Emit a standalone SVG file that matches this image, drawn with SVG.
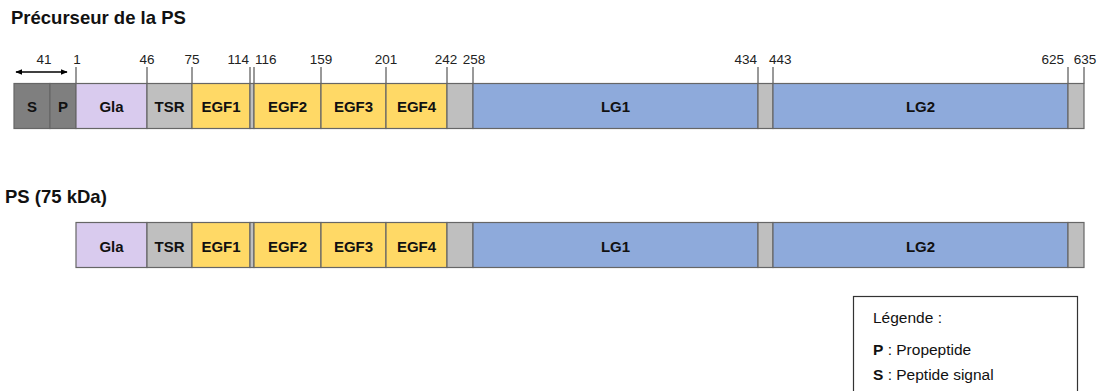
<svg xmlns="http://www.w3.org/2000/svg" width="1104" height="391" viewBox="0 0 1104 391">
<defs>
<style>
.seg{stroke:#666;stroke-width:1.2}
.dk{fill:#7f7f7f}.gla{fill:#d9cbee}.gr{fill:#bfbfbf}.egf{fill:#ffd966}.lg{fill:#8eaadb}
.lbl{font-family:"Liberation Sans",Arial,sans-serif;font-weight:bold;font-size:15px;fill:#111;text-anchor:middle}
.num{font-family:"Liberation Sans",Arial,sans-serif;font-size:13.5px;fill:#222}
.title{font-family:"Liberation Sans",Arial,sans-serif;font-weight:bold;font-size:18.5px;fill:#111}
.leg{font-family:"Liberation Sans",Arial,sans-serif;font-size:15.5px;fill:#111}
.tick{stroke:#555;stroke-width:1.2}
</style>
<marker id="ah" viewBox="0 0 10 10" refX="9" refY="5" markerWidth="7" markerHeight="7" orient="auto-start-reverse" markerUnits="userSpaceOnUse">
<path d="M0,1 L10,5 L0,9 z" fill="#000"/>
</marker>
</defs>
<rect width="1104" height="391" fill="#fff"/>

<text class="title" x="11" y="24">Précurseur de la PS</text>
<text class="title" x="5" y="203">PS (75 kDa)</text>

<g id="connectors">
<line x1="16" y1="72" x2="67" y2="72" stroke="#000" stroke-width="1.3" marker-start="url(#ah)" marker-end="url(#ah)"/>
<g class="tick">
<line x1="76" y1="67" x2="76" y2="83.5"/>
<line x1="147" y1="67" x2="147" y2="83.5"/>
<line x1="192" y1="67" x2="192" y2="83.5"/>
<line x1="250" y1="67" x2="250" y2="83.5"/>
<line x1="254" y1="67" x2="254" y2="83.5"/>
<line x1="321" y1="67" x2="321" y2="83.5"/>
<line x1="386" y1="67" x2="386" y2="83.5"/>
<line x1="447" y1="67" x2="447" y2="83.5"/>
<line x1="473" y1="67" x2="473" y2="83.5"/>
<line x1="758" y1="67" x2="758" y2="83.5"/>
<line x1="773" y1="67" x2="773" y2="83.5"/>
<line x1="1068" y1="67" x2="1068" y2="83.5"/>
<line x1="1084" y1="67" x2="1084" y2="83.5"/>
</g>
</g>

<g id="numbers" class="num">
<text x="44" y="64" text-anchor="middle">41</text>
<text x="77" y="64" text-anchor="middle">1</text>
<text x="147" y="64" text-anchor="middle">46</text>
<text x="192" y="64" text-anchor="middle">75</text>
<text x="249" y="64" text-anchor="end">114</text>
<text x="255" y="64">116</text>
<text x="321" y="64" text-anchor="middle">159</text>
<text x="386" y="64" text-anchor="middle">201</text>
<text x="446" y="64" text-anchor="middle">242</text>
<text x="474" y="64" text-anchor="middle">258</text>
<text x="757" y="64" text-anchor="end">434</text>
<text x="769" y="64">443</text>
<text x="1064" y="64" text-anchor="end">625</text>
<text x="1085" y="64" text-anchor="middle">635</text>
</g>

<g id="precursor">
<g id="p-S"><rect class="seg dk" x="14" y="83.5" width="36" height="45"/><text class="lbl" x="32" y="111.5">S</text></g>
<g id="p-P"><rect class="seg dk" x="50" y="83.5" width="26" height="45"/><text class="lbl" x="63" y="111.5">P</text></g>
<g id="p-Gla"><rect class="seg gla" x="76" y="83.5" width="71" height="45"/><text class="lbl" x="111.5" y="111.5">Gla</text></g>
<g id="p-TSR"><rect class="seg gr" x="147" y="83.5" width="45" height="45"/><text class="lbl" x="169.5" y="111.5">TSR</text></g>
<g id="p-EGF1"><rect class="seg egf" x="192" y="83.5" width="58" height="45"/><text class="lbl" x="221" y="111.5">EGF1</text></g>
<g id="p-link1"><rect class="seg gr" x="250" y="83.5" width="4" height="45"/></g>
<g id="p-EGF2"><rect class="seg egf" x="254" y="83.5" width="67" height="45"/><text class="lbl" x="287.5" y="111.5">EGF2</text></g>
<g id="p-EGF3"><rect class="seg egf" x="321" y="83.5" width="65" height="45"/><text class="lbl" x="353.5" y="111.5">EGF3</text></g>
<g id="p-EGF4"><rect class="seg egf" x="386" y="83.5" width="61" height="45"/><text class="lbl" x="416.5" y="111.5">EGF4</text></g>
<g id="p-link2"><rect class="seg gr" x="447" y="83.5" width="26" height="45"/></g>
<g id="p-LG1"><rect class="seg lg" x="473" y="83.5" width="285" height="45"/><text class="lbl" x="615.5" y="111.5">LG1</text></g>
<g id="p-link3"><rect class="seg gr" x="758" y="83.5" width="15" height="45"/></g>
<g id="p-LG2"><rect class="seg lg" x="773" y="83.5" width="295" height="45"/><text class="lbl" x="920.5" y="111.5">LG2</text></g>
<g id="p-end"><rect class="seg gr" x="1068" y="83.5" width="16" height="45"/></g>
</g>

<g id="mature">
<g id="m-Gla"><rect class="seg gla" x="76" y="222.5" width="71" height="45"/><text class="lbl" x="111.5" y="251.5">Gla</text></g>
<g id="m-TSR"><rect class="seg gr" x="147" y="222.5" width="45" height="45"/><text class="lbl" x="169.5" y="251.5">TSR</text></g>
<g id="m-EGF1"><rect class="seg egf" x="192" y="222.5" width="58" height="45"/><text class="lbl" x="221" y="251.5">EGF1</text></g>
<g id="m-link1"><rect class="seg gr" x="250" y="222.5" width="4" height="45"/></g>
<g id="m-EGF2"><rect class="seg egf" x="254" y="222.5" width="67" height="45"/><text class="lbl" x="287.5" y="251.5">EGF2</text></g>
<g id="m-EGF3"><rect class="seg egf" x="321" y="222.5" width="65" height="45"/><text class="lbl" x="353.5" y="251.5">EGF3</text></g>
<g id="m-EGF4"><rect class="seg egf" x="386" y="222.5" width="61" height="45"/><text class="lbl" x="416.5" y="251.5">EGF4</text></g>
<g id="m-link2"><rect class="seg gr" x="447" y="222.5" width="26" height="45"/></g>
<g id="m-LG1"><rect class="seg lg" x="473" y="222.5" width="285" height="45"/><text class="lbl" x="615.5" y="251.5">LG1</text></g>
<g id="m-link3"><rect class="seg gr" x="758" y="222.5" width="15" height="45"/></g>
<g id="m-LG2"><rect class="seg lg" x="773" y="222.5" width="295" height="45"/><text class="lbl" x="920.5" y="251.5">LG2</text></g>
<g id="m-end"><rect class="seg gr" x="1068" y="222.5" width="16" height="45"/></g>
</g>

<g id="legend">
<rect x="853.5" y="296.5" width="224" height="110" fill="#fff" stroke="#333" stroke-width="1.2"/>
<text class="leg" x="873" y="323">Légende :</text>
<text class="leg" x="873" y="355"><tspan font-weight="bold">P</tspan> : Propeptide</text>
<text class="leg" x="873" y="380"><tspan font-weight="bold">S</tspan> : Peptide signal</text>
</g>
</svg>
